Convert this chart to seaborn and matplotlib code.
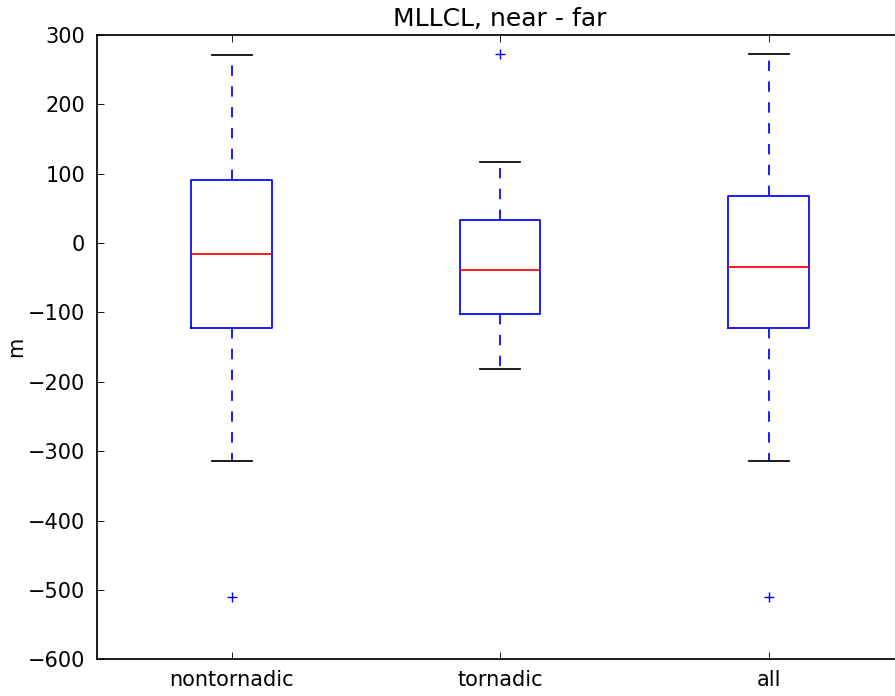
import matplotlib
matplotlib.use("Agg")
import matplotlib.pyplot as plt
import seaborn as sns
import pandas as pd

categories = ["nontornadic", "tornadic", "all"]
whisker_low = [-314, -181, -314]
q1 = [-123, -102, -122]
median = [-16, -39, -35]
q3 = [91, 34, 68]
whisker_high = [271, 117, 272]
outliers = [[-510], [273], [-510]]
y_ticks = [-600, -500, -400, -300, -200, -100, 0, 100, 200, 300]

# Build samples whose quartiles / whiskers reproduce the read box statistics
rows = []
for i, cat in enumerate(categories):
    vals = [whisker_low[i]] + [q1[i]] * 20 + [median[i]] * 10 + [q3[i]] * 20 + [whisker_high[i]] + outliers[i]
    rows += [(cat, v) for v in vals]
df = pd.DataFrame(rows, columns=["group", "value"])

plt.rcParams.update({
    "font.family": ["DejaVu Sans"],
    "font.size": 12,
    "axes.linewidth": 1.0,
    "xtick.direction": "in",
    "ytick.direction": "in",
    "xtick.top": True,
    "ytick.right": True,
    "xtick.major.size": 4,
    "ytick.major.size": 4,
    "xtick.major.width": 0.5,
    "ytick.major.width": 0.5,
    "xtick.major.pad": 6,
    "ytick.major.pad": 7,
})

dpi = 125
fig = plt.figure(figsize=(895 / dpi, 696 / dpi), dpi=dpi)
ax = fig.add_axes([97.4 / 895, (696 - 659.3) / 696, (903 - 97.4) / 895, (659.3 - 35) / 696])

sns.boxplot(
    data=df, x="group", y="value", order=categories, ax=ax,
    width=0.3, fill=False, color="blue", linecolor="blue", linewidth=1.0,
    whis=1.5, capwidths=0.15,
    boxprops=dict(color="blue", linewidth=1.0),
    medianprops=dict(color="red", linewidth=1.0),
    whiskerprops=dict(color="blue", linestyle=(0, (6, 6)), linewidth=1.0),
    capprops=dict(color="black", linewidth=1.0),
    flierprops=dict(marker="+", markeredgecolor="#0000ff", markerfacecolor="#0000ff",
                    color="#0000ff", markersize=6, markeredgewidth=0.8, linestyle="none"),
)

ax.set_xlim(-0.5, 2.5)
ax.set_ylim(-600, 300)
ax.set_yticks(y_ticks)
ax.set_xlabel("")
ax.set_ylabel("m", fontsize=12, labelpad=1)
ax.set_title("MLLCL, near - far", fontsize=14.4, pad=5)
ax.grid(False)
for s in ax.spines.values():
    s.set_visible(True)
    s.set_color("black")

fig.savefig("out.png", dpi=dpi)
